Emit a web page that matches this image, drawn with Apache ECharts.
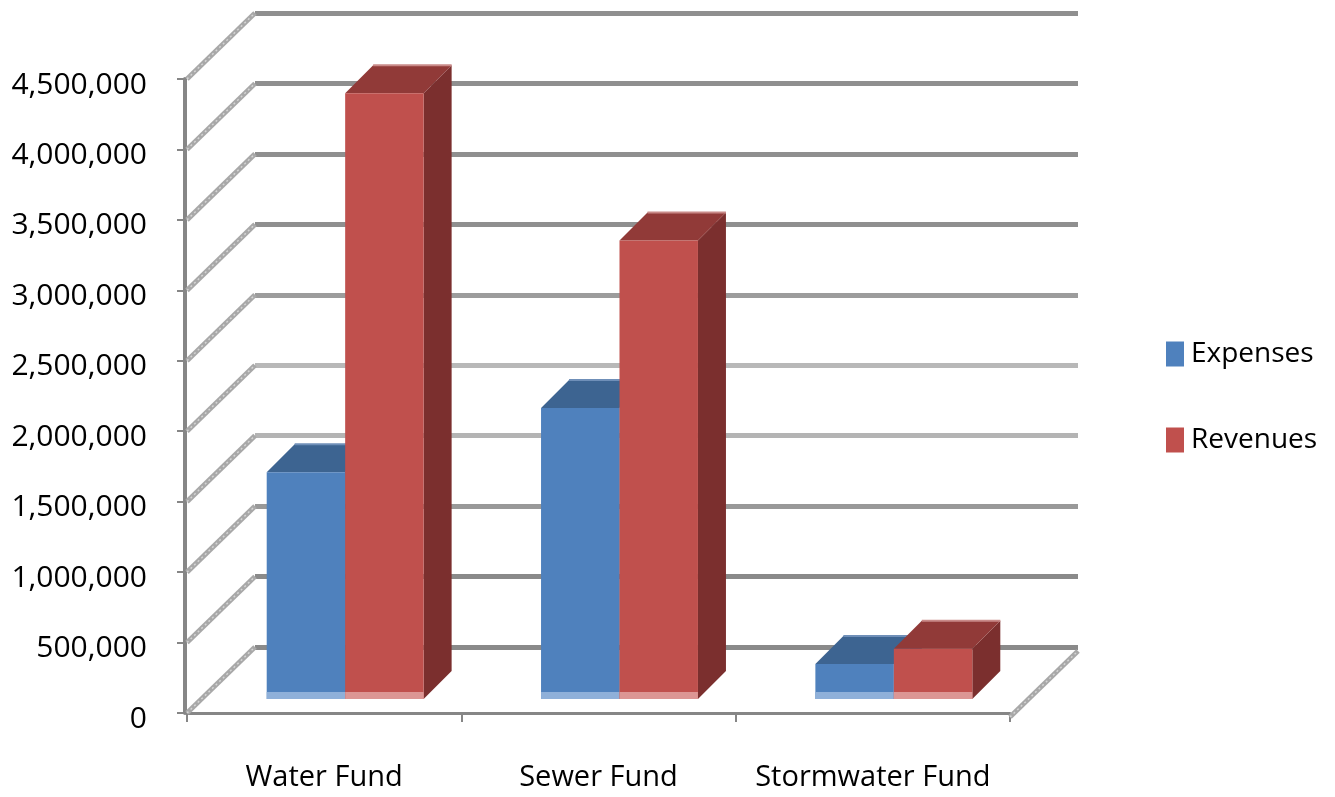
<!DOCTYPE html>
<html><head><meta charset="utf-8">
<script src="https://cdn.jsdelivr.net/npm/echarts@6/dist/echarts.min.js"></script>
<style>html,body{margin:0;padding:0;background:#fff}#c{width:1335px;height:797px}</style>
</head><body><div id="c"></div>
<script>
// ---- data ----
const categories = ['Water Fund', 'Sewer Fund', 'Stormwater Fund'];
const seriesNames = ['Expenses', 'Revenues'];
const expenses = [1610000, 2065000, 249000];
const revenues = [4300000, 3255000, 356000];
const yTicks = [0, 500000, 1000000, 1500000, 2000000, 2500000, 3000000, 3500000, 4000000, 4500000];

// ---- style ----
const FONT = '"Open Sans","Noto Sans",sans-serif';
const WALL_DX = 68, WALL_DY = 66;
const BAR_DX = 21, BAR_DY = 14, BAR_DEPTH = 28;
const palettes = [
  {front:'#4f81bd', top:'#3d6491', side:'#385d8a', strip:'#8fb0d9', edge:'#6f8fb8'},
  {front:'#c0504d', top:'#913a38', side:'#7b2f2e', strip:'#dc9694', edge:'#c98a88'}
];
const gridColors = ['#8a8a8a','#8a8a8a','#999999','#b4b4b4','#b8b8b8','#9c9c9c','#8f8f8f','#8f8f8f','#8f8f8f','#8f8f8f'];

function barRender(sIdx) {
  return function (params, api) {
    const cat = api.value(0), v = api.value(1);
    const band = api.size([1, 0])[0];
    const bw = band * 0.286;
    const c = api.coord([cat, v]);
    const c0 = api.coord([cat, 0]);
    const x0 = c[0] + BAR_DX - bw + sIdx * bw;
    const yt = c[1] - BAR_DY, yb = c0[1] - BAR_DY;
    const d = BAR_DEPTH, p = palettes[sIdx];
    return {type: 'group', children: [
      {type: 'polygon', shape: {points: [[x0 + bw, yt], [x0 + bw + d, yt - d], [x0 + bw + d, yb - d], [x0 + bw, yb]]}, style: {fill: p.side}},
      {type: 'polygon', shape: {points: [[x0, yt], [x0 + bw, yt], [x0 + bw + d, yt - d], [x0 + d, yt - d]]}, style: {fill: p.top}},
      {type: 'rect', shape: {x: x0, y: yt, width: bw, height: yb - yt}, style: {fill: p.front}},
      {type: 'rect', shape: {x: x0, y: yb - 7, width: bw, height: 7}, style: {fill: p.strip}},
      {type: 'line', shape: {x1: x0 + d, y1: yt - d, x2: x0 + bw + d, y2: yt - d}, style: {stroke: p.edge, lineWidth: 2}}
    ]};
  };
}

function wallRender(params, api) {
  const v = api.value(1);
  const y = api.coord([0, v])[1];
  const cs = params.coordSys;
  const x = cs.x;
  const segs = [[x, y, x + WALL_DX, y - WALL_DY]];
  if (v === 0) {
    segs.push([cs.x + cs.width, y + 4, cs.x + cs.width + WALL_DX, y + 4 - WALL_DY]);
  }
  const children = [];
  segs.forEach(s => {
    children.push({type: 'line', shape: {x1: s[0], y1: s[1], x2: s[2], y2: s[3]}, style: {stroke: '#a8a8a8', lineWidth: 5}});
    children.push({type: 'line', shape: {x1: s[0], y1: s[1], x2: s[2], y2: s[3]}, style: {stroke: '#d4d4d4', lineWidth: 1.5, lineDash: [2, 3]}});
  });
  return {type: 'group', children};
}

const chart = echarts.init(document.getElementById('c'), null, {renderer: 'canvas'});
chart.setOption({
  backgroundColor: '#ffffff',
  animation: false,
  legend: {
    data: seriesNames, orient: 'vertical', left: 1161, top: 335,
    icon: 'rect', itemWidth: 18, itemHeight: 25, itemGap: 58,
    textStyle: {fontFamily: FONT, fontSize: 28, color: '#000', padding: [0, 0, 0, 2]}
  },
  grid: [
    {left: 187, right: 325, top: 79, bottom: 84, outerBoundsMode: 'none', containLabel: false},
    {left: 187 + WALL_DX, right: 325 - WALL_DX, top: 79 - WALL_DY, bottom: 84 + WALL_DY, outerBoundsMode: 'none', containLabel: false}
  ],
  xAxis: [
    {type: 'category', gridIndex: 0, data: categories, boundaryGap: true, offset: 6,
     axisLine: {lineStyle: {color: '#868686', width: 3}},
     axisTick: {show: true, length: 9, lineStyle: {color: '#868686', width: 2}},
     axisLabel: {fontFamily: FONT, fontSize: 29, color: '#000', margin: 44, interval: 0},
     splitLine: {show: false}},
    {type: 'category', gridIndex: 1, data: categories, show: false}
  ],
  yAxis: [
    {type: 'value', gridIndex: 0, min: 0, max: 4500000, interval: 500000, offset: 2,
     axisLine: {show: true, lineStyle: {color: '#868686', width: 4}},
     axisTick: {show: true, length: 8, lineStyle: {color: '#868686', width: 2}},
     axisLabel: {fontFamily: FONT, fontSize: 30, color: '#000', margin: 38,
       verticalAlign: 'top', lineHeight: 12,
       formatter: v => v.toLocaleString('en-US')},
     splitLine: {show: false}},
    {type: 'value', gridIndex: 1, min: 0, max: 4500000, interval: 500000,
     axisLine: {show: false}, axisTick: {show: false}, axisLabel: {show: false},
     splitLine: {show: true, lineStyle: {color: gridColors, width: 5}}}
  ],
  series: [
    {type: 'custom', name: '_walls', xAxisIndex: 0, yAxisIndex: 0, silent: true, z: 1,
     data: yTicks.map(v => [0, v]), renderItem: wallRender},
    {type: 'custom', name: seriesNames[0], xAxisIndex: 0, yAxisIndex: 0, z: 3,
     itemStyle: {color: palettes[0].front},
     data: expenses.map((v, i) => [i, v]), renderItem: barRender(0)},
    {type: 'custom', name: seriesNames[1], xAxisIndex: 0, yAxisIndex: 0, z: 3,
     itemStyle: {color: palettes[1].front},
     data: revenues.map((v, i) => [i, v]), renderItem: barRender(1)}
  ]
});
</script></body></html>
